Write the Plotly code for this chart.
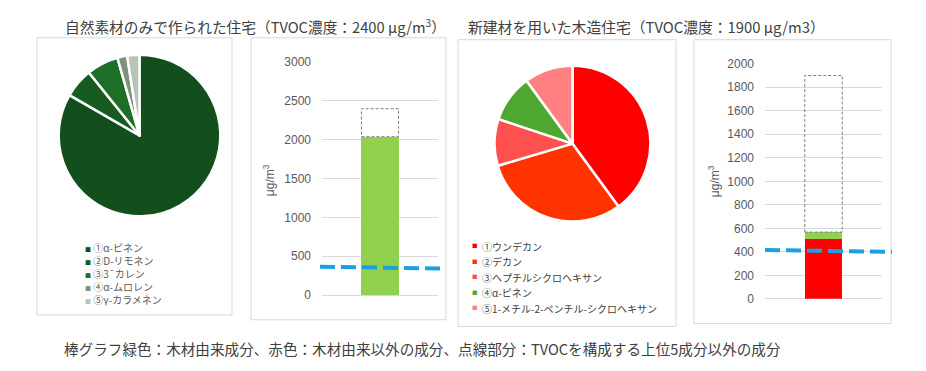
import plotly.graph_objects as go

W, H = 926, 371

# ---------------- data ----------------
tvoc_totals = [2400, 1900]

house1_labels = ["①α-ピネン", "②D-リモネン", "③3¯カレン", "④α-ムロレン", "⑤γ-カラメネン"]
house1_values = [1700, 120, 130, 40, 50]
house1_origin = ["wood", "wood", "wood", "wood", "wood"]

house2_labels = ["①ウンデカン", "②デカン", "③ヘプチルシクロヘキサン", "④α-ピネン",
                 "⑤1-メチル-2-ペンチル-シクロヘキサン"]
house2_values = [227, 173, 55, 56, 57]
house2_origin = ["other", "other", "other", "wood", "other"]

guide1 = [365, 340]
guide2 = [415, 400]

y1_ticks = [0, 500, 1000, 1500, 2000, 2500, 3000]
y2_ticks = [0, 200, 400, 600, 800, 1000, 1200, 1400, 1600, 1800, 2000]

footer_text = "棒グラフ緑色：木材由来成分、赤色：木材由来以外の成分、点線部分：TVOCを構成する上位5成分以外の成分"

# ---------------- styles ----------------
house1_colors = ["#134F1C", "#165C20", "#1E6E28", "#7C937D", "#B9C4B9"]
house2_colors = ["#FF0000", "#FF3300", "#FF5050", "#4EA72E", "#FF8080"]
WOOD_COLOR = "#92D050"
OTHER_COLOR = "#FF0000"
GUIDE_COLOR = "#1BA1E2"
GRID = "#D9D9D9"
JP = "Noto Sans CJK JP"
NUM = "Liberation Sans, Arial, sans-serif"


def px(x):
    return x / W


def py(y):
    return 1 - y / H


fig = go.Figure()

# ---------------- pies ----------------
def pie_domain(cx, cy, r):
    return dict(x=[px(cx - r), px(cx + r)], y=[py(cy + r), py(cy - r)])


fig.add_trace(go.Pie(
    labels=house1_labels, values=house1_values, sort=False, direction="clockwise",
    rotation=0, textinfo="none", hoverinfo="label+value+percent",
    marker=dict(colors=house1_colors, line=dict(color="white", width=2.5)),
    domain=pie_domain(139.5, 133.5, 84), showlegend=False))

fig.add_trace(go.Pie(
    labels=house2_labels, values=house2_values, sort=False, direction="clockwise",
    rotation=0, textinfo="none", hoverinfo="label+value+percent",
    marker=dict(colors=house2_colors, line=dict(color="white", width=2.5)),
    domain=pie_domain(572.5, 142, 81), showlegend=False))

# ---------------- bars ----------------
BAR_W = 0.32
houses = [
    (house1_values, house1_origin, tvoc_totals[0], "x", "y"),
    (house2_values, house2_origin, tvoc_totals[1], "x2", "y2"),
]
shapes = []
for vals, origin, total, xa, ya in houses:
    other = sum(v for v, o in zip(vals, origin) if o == "other")
    wood = sum(v for v, o in zip(vals, origin) if o == "wood")
    fig.add_trace(go.Bar(x=[0], y=[other], width=BAR_W, marker=dict(color=OTHER_COLOR, line=dict(width=0)),
                         xaxis=xa, yaxis=ya, showlegend=False, name="木材由来以外"))
    fig.add_trace(go.Bar(x=[0], y=[wood], width=BAR_W, marker=dict(color=WOOD_COLOR, line=dict(width=0)),
                         xaxis=xa, yaxis=ya, showlegend=False, name="木材由来"))
    # dashed remainder box (TVOC minus top-5)
    shapes.append(dict(type="rect", xref=xa, yref=ya, x0=-BAR_W / 2, x1=BAR_W / 2,
                       y0=other + wood, y1=total, fillcolor="rgba(0,0,0,0)",
                       line=dict(color="#7F7F7F", width=1, dash="3px,2px"), layer="above"))

# guideline dashed blue lines
shapes.append(dict(type="line", xref="paper", yref="y", x0=px(320), x1=px(446),
                   y0=guide1[0], y1=guide1[1],
                   line=dict(color=GUIDE_COLOR, width=4, dash="15px,6px"), layer="above"))
shapes.append(dict(type="line", xref="paper", yref="y2", x0=px(765), x1=px(892),
                   y0=guide2[0], y1=guide2[1],
                   line=dict(color=GUIDE_COLOR, width=4, dash="15px,6px"), layer="above"))

# panel borders
for (x0, y0, x1, y1) in [(37, 32, 232, 320), (251, 32, 446, 325), (458, 34, 676, 332), (694, 34, 891, 329)]:
    shapes.append(dict(type="rect", xref="paper", yref="paper", x0=px(x0), x1=px(x1),
                       y0=py(y1), y1=py(y0), line=dict(color=GRID, width=1),
                       fillcolor="rgba(0,0,0,0)", layer="below"))

axis_common = dict(showgrid=True, gridcolor=GRID, gridwidth=1, zeroline=True,
                   zerolinecolor=GRID, zerolinewidth=1, showline=False, ticks="",
                   tickfont=dict(family=NUM, size=12, color="#595959"),
                   ticklabelstandoff=10, fixedrange=True)
xaxis_common = dict(showgrid=False, zeroline=False, showline=False, showticklabels=False,
                    range=[-0.5, 0.5], fixedrange=True)

fig.update_layout(
    width=W, height=H, margin=dict(l=0, r=0, t=0, b=0),
    paper_bgcolor="white", plot_bgcolor="white", barmode="stack", bargap=0,
    xaxis=dict(domain=[px(322), px(438)], anchor="y", **xaxis_common),
    yaxis=dict(domain=[py(299.3), py(57.3)], anchor="x", range=[0, 3000],
               tickvals=y1_ticks, **axis_common),
    xaxis2=dict(domain=[px(765), px(882)], anchor="y2", **xaxis_common),
    yaxis2=dict(domain=[py(303.3), py(59)], anchor="x2", range=[0, 2000],
                tickvals=y2_ticks, **axis_common),
    shapes=shapes,
    font=dict(family=JP),
)

ann = []
# titles
ann.append(dict(text=f"自然素材のみで作られた住宅（TVOC濃度：{tvoc_totals[0]} μg/m<sup>3</sup>）",
                x=px(63), y=py(20), xref="paper", yref="paper", xanchor="left", yanchor="middle",
                showarrow=False, font=dict(family=JP, size=14.7, color="#404040")))
ann.append(dict(text=f"新建材を用いた木造住宅（TVOC濃度：{tvoc_totals[1]} μg/m3）",
                x=px(466), y=py(20), xref="paper", yref="paper", xanchor="left", yanchor="middle",
                showarrow=False, font=dict(family=JP, size=14.8, color="#404040")))
# footer
ann.append(dict(text=footer_text, x=px(62), y=py(355), xref="paper", yref="paper",
                xanchor="left", yanchor="middle", showarrow=False,
                font=dict(family=JP, size=14.6, color="#404040")))
# y-axis titles
for (tx, ty) in [(269, 180), (714, 181)]:
    ann.append(dict(text="μg/m<sup>3</sup>", x=px(tx), y=py(ty), xref="paper", yref="paper",
                    xanchor="center", yanchor="middle", textangle=-90, showarrow=False,
                    font=dict(family=NUM, size=12, color="#595959")))

# legend 1: one multi-line text block (line pitch 1.3em = 13px)
legend1_text = "<br>".join(
    f"<span style='color:{c};font-size:6px'>■</span> {lab}"
    for lab, c in zip(house1_labels, house1_colors))
ann.append(dict(text=legend1_text, x=px(82.5), y=py(277), xref="paper", yref="paper",
                xanchor="left", yanchor="middle", align="left", showarrow=False,
                font=dict(family=JP, size=10, color="#595959")))

# legend 2: separate rows (wider pitch)
for i, (lab, col) in enumerate(zip(house2_labels, house2_colors)):
    yy = 248.5 + i * 16.2
    ann.append(dict(text="■", x=px(475), y=py(yy), xref="paper", yref="paper",
                    xanchor="center", yanchor="middle", showarrow=False,
                    font=dict(family=JP, size=5.5, color=col)))
    ann.append(dict(text=lab, x=px(479.5), y=py(yy), xref="paper", yref="paper",
                    xanchor="left", yanchor="middle", showarrow=False,
                    font=dict(family=JP, size=10, color="#404040")))

fig.update_layout(annotations=ann)

fig.write_html("out.html", config={"displayModeBar": False},
               post_script="document.body.style.margin='0';document.body.style.padding='0';"
                           "document.documentElement.style.overflow='hidden';")
